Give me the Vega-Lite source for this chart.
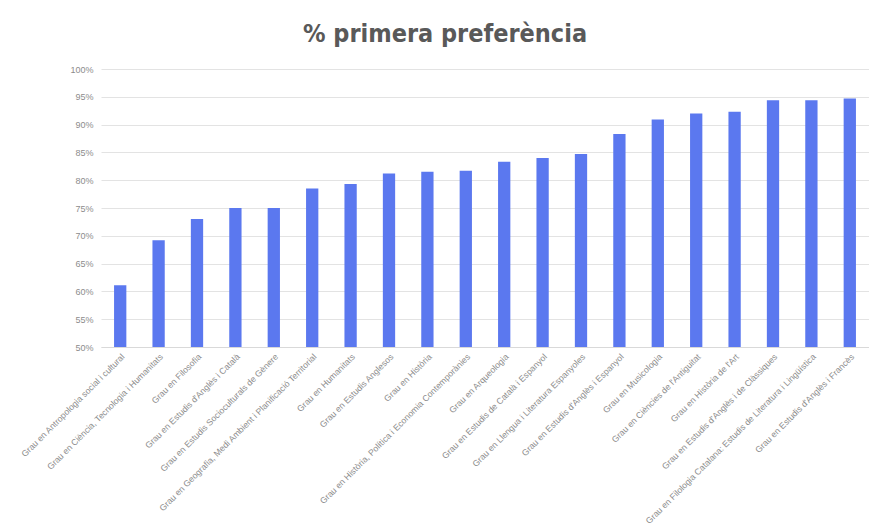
{
  "$schema": "https://vega.github.io/schema/vega-lite/v6.json",
  "autosize": {"type": "none"},
  "width": 768,
  "height": 278,
  "padding": {"left": 101, "top": 69, "right": 0, "bottom": 183},
  "background": "#ffffff",
  "title": {
    "text": "% primera preferència",
    "font": "DejaVu Sans Condensed, Liberation Sans Narrow, Open Sans, sans-serif",
    "fontWeight": "bold",
    "fontSize": 25,
    "color": "#595959",
    "anchor": "middle",
    "dx": -40,
    "offset": 18
  },
  "data": {
    "values": [
      {"grau": "Grau en Antropologia social i cultural", "pct": 0.611},
      {"grau": "Grau en Ciència, Tecnologia i Humanitats", "pct": 0.692},
      {"grau": "Grau en Filosofia", "pct": 0.730},
      {"grau": "Grau en Estudis d'Anglès i Català", "pct": 0.750},
      {"grau": "Grau en Estudis Socioculturals de Gènere", "pct": 0.750},
      {"grau": "Grau en  Geografia, Medi Ambient i Planificació Territorial", "pct": 0.785},
      {"grau": "Grau en Humanitats", "pct": 0.793},
      {"grau": "Grau en Estudis Anglesos", "pct": 0.812},
      {"grau": "Grau en Història", "pct": 0.815},
      {"grau": "Grau en Història, Política i Economia Contemporànies", "pct": 0.817},
      {"grau": "Grau en Arqueologia", "pct": 0.833},
      {"grau": "Grau en Estudis de Català i Espanyol", "pct": 0.840},
      {"grau": "Grau en Llengua i Literatura Espanyoles", "pct": 0.847},
      {"grau": "Grau en Estudis d'Anglès i Espanyol", "pct": 0.883},
      {"grau": "Grau en Musicologia", "pct": 0.909},
      {"grau": "Grau en Ciències de l'Antiguitat", "pct": 0.920},
      {"grau": "Grau en Història de l'Art", "pct": 0.923},
      {"grau": "Grau en Estudis d'Anglès i de Clàssiques", "pct": 0.944},
      {"grau": "Grau en Filologia Catalana: Estudis de Literatura i Lingüística", "pct": 0.944},
      {"grau": "Grau en Estudis d'Anglès i Francès", "pct": 0.947}
    ]
  },
  "mark": {"type": "bar", "color": "#5b78ef", "clip": true},
  "encoding": {
    "x": {
      "field": "grau",
      "type": "nominal",
      "sort": null,
      "title": null,
      "scale": {"paddingInner": 0.68, "paddingOuter": 0.34},
      "axis": {
        "labelAngle": -45,
        "labelFont": "Liberation Sans",
        "labelFontSize": 8.7,
        "labelColor": "#8c8c8c",
        "labelLimit": 400,
        "labelPadding": 5,
        "domainColor": "#d9d9d9",
        "ticks": false
      }
    },
    "y": {
      "field": "pct",
      "type": "quantitative",
      "title": null,
      "scale": {"domain": [0.5, 1.0], "nice": false, "zero": false},
      "axis": {
        "format": ".0%",
        "values": [0.5, 0.55, 0.6, 0.65, 0.7, 0.75, 0.8, 0.85, 0.9, 0.95, 1.0],
        "labelFont": "Liberation Sans",
        "labelFontSize": 9,
        "labelColor": "#8c8c8c",
        "labelPadding": 8,
        "domain": false,
        "ticks": false,
        "gridColor": "#e3e3e3"
      }
    }
  },
  "config": {"view": {"stroke": null}}
}
